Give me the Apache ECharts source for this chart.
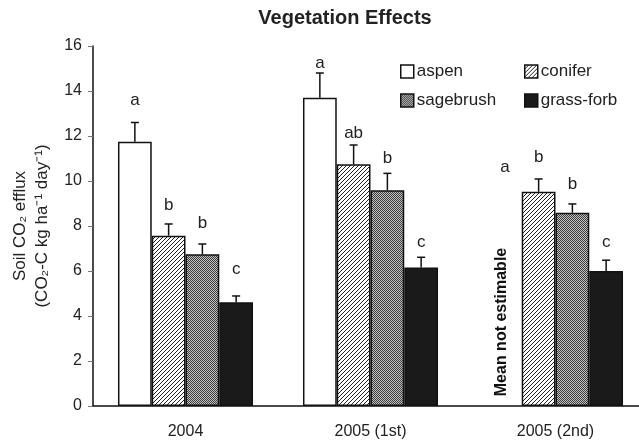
<!DOCTYPE html>
<html>
<head>
    <meta charset="utf-8" />
    <title>Vegetation Effects</title>
    <script type="text/javascript" src="https://cdn.jsdelivr.net/npm/echarts@6/dist/echarts.min.js"></script>
    <style>
        html, body { margin: 0; padding: 0; background: #fff; }
        #main { width: 639px; height: 444px; }
    </style>
</head>
<body>
    <div id="main"></div>
    <script type="text/javascript">
        var categories = ['2004', '2005 (1st)', '2005 (2nd)'];
        var vegNames = ['aspen', 'conifer', 'sagebrush', 'grass-forb'];
        // means
        var aspen = [11.75, 13.7, null];
        var conifer = [7.57, 10.74, 9.52];
        var sagebrush = [6.74, 9.59, 8.59];
        var grassForb = [4.61, 6.16, 6.0];
        // top of error bars
        var aspenErr = [12.6, 14.8, null];
        var coniferErr = [8.09, 11.6, 10.09];
        var sagebrushErr = [7.2, 10.34, 8.98];
        var grassForbErr = [4.89, 6.61, 6.48];
        // significance letters and where they sit
        var aspenLetters = ['a', 'a', 'a'];
        var coniferLetters = ['b', 'ab', 'b'];
        var sagebrushLetters = ['b', 'b', 'b'];
        var grassForbLetters = ['c', 'c', 'c'];
        var aspenLetterY = [13.6, 15.24, 10.62];
        var coniferLetterY = [8.93, 12.13, 11.07];
        var sagebrushLetterY = [8.13, 11.0, 9.87];
        var grassForbLetterY = [6.09, 7.29, 7.29];

        var means = [aspen, conifer, sagebrush, grassForb];
        var errs = [aspenErr, coniferErr, sagebrushErr, grassForbErr];
        var letters = [aspenLetters, coniferLetters, sagebrushLetters, grassForbLetters];
        var letterY = [aspenLetterY, coniferLetterY, sagebrushLetterY, grassForbLetterY];

        var catGap = 0.27;
        var FONT = '"Liberation Sans", Arial, sans-serif';

        // fill patterns
        function hatchPattern() {
            var c = document.createElement('canvas');
            c.width = 4; c.height = 4;
            var ctx = c.getContext('2d');
            ctx.fillStyle = '#fff';
            ctx.fillRect(0, 0, 4, 4);
            ctx.strokeStyle = '#222';
            ctx.lineWidth = 1;
            ctx.beginPath();
            ctx.moveTo(-1, 5); ctx.lineTo(5, -1);
            ctx.moveTo(-1, 1); ctx.lineTo(1, -1);
            ctx.moveTo(3, 5); ctx.lineTo(5, 3);
            ctx.stroke();
            return c;
        }
        function stipplePattern() {
            var c = document.createElement('canvas');
            c.width = 2; c.height = 2;
            var ctx = c.getContext('2d');
            ctx.fillStyle = '#c4c4c4';
            ctx.fillRect(0, 0, 2, 2);
            ctx.fillStyle = '#3a3a3a';
            ctx.fillRect(0, 0, 1, 1);
            ctx.fillRect(1, 1, 1, 1);
            return c;
        }
        var fills = [
            '#ffffff',
            { image: hatchPattern(), repeat: 'repeat' },
            { image: stipplePattern(), repeat: 'repeat' },
            '#1a1a1a'
        ];

        var myChart = echarts.init(document.getElementById('main'), null, { renderer: 'canvas' });

        var series = [];
        for (var i = 0; i < 4; i++) {
            series.push({
                name: vegNames[i],
                type: 'bar',
                data: means[i],
                barGap: '0%',
                barCategoryGap: (catGap * 100) + '%',
                itemStyle: { color: fills[i], borderColor: '#111', borderWidth: 1.5 },
                emphasis: { disabled: true }
            });
        }
        for (var k = 0; k < 4; k++) {
            (function (idx) {
                var data = [];
                for (var j = 0; j < categories.length; j++) {
                    data.push([j, means[idx][j], errs[idx][j], letterY[idx][j]]);
                }
                series.push({
                    type: 'custom',
                    data: data,
                    z: 5,
                    silent: true,
                    renderItem: function (params, api) {
                        var cat = api.value(0);
                        var band = api.size([1, 0])[0];
                        var bw = band * (1 - catGap) / 4;
                        var off = (idx - 1.5) * bw;
                        var children = [];
                        var mean = api.value(1);
                        var err = api.value(2);
                        if (!isNaN(mean) && !isNaN(err)) {
                            var p0 = api.coord([cat, mean]);
                            var p1 = api.coord([cat, err]);
                            var x = p0[0] + off;
                            children.push({
                                type: 'line',
                                shape: { x1: x, y1: p0[1], x2: x, y2: p1[1] },
                                style: { stroke: '#111', lineWidth: 1.5 }
                            });
                            children.push({
                                type: 'line',
                                shape: { x1: x - 4, y1: p1[1], x2: x + 4, y2: p1[1] },
                                style: { stroke: '#111', lineWidth: 1.5 }
                            });
                        }
                        var pl = api.coord([cat, api.value(3)]);
                        children.push({
                            type: 'text',
                            x: pl[0] + off,
                            y: pl[1],
                            style: {
                                text: letters[idx][params.dataIndex],
                                fill: '#222',
                                font: '17px ' + FONT,
                                align: 'center',
                                verticalAlign: 'middle'
                            }
                        });
                        return { type: 'group', children: children };
                    }
                });
            })(k);
        }

        var legendText = { fontSize: 17, color: '#222', fontFamily: FONT, padding: [0, 0, 0, -2] };
        var option = {
            backgroundColor: '#fff',
            animation: false,
            title: {
                text: 'Vegetation Effects',
                left: 340,
                textAlign: 'center',
                top: 3,
                textStyle: { fontSize: 20, fontWeight: 'bold', color: '#222', fontFamily: FONT }
            },
            legend: [{
                data: ['aspen', 'sagebrush'],
                orient: 'vertical',
                left: 395,
                top: 58,
                icon: 'rect',
                itemWidth: 13,
                itemHeight: 13,
                itemGap: 12,
                textStyle: legendText,
                itemStyle: { borderColor: '#111', borderWidth: 1.5 }
            }, {
                data: ['conifer', 'grass-forb'],
                orient: 'vertical',
                left: 519,
                top: 58,
                icon: 'rect',
                itemWidth: 13,
                itemHeight: 13,
                itemGap: 12,
                textStyle: legendText,
                itemStyle: { borderColor: '#111', borderWidth: 1.5 }
            }],
            grid: { left: 93, top: 46, width: 555, bottom: 38, outerBoundsMode: 'none', containLabel: false },
            xAxis: {
                type: 'category',
                data: categories,
                axisLine: { lineStyle: { color: '#111', width: 1.5 } },
                axisTick: { length: 5, lineStyle: { color: '#777' } },
                axisLabel: { color: '#222', fontSize: 16, margin: 18, fontFamily: FONT }
            },
            yAxis: {
                type: 'value',
                min: 0,
                max: 16,
                interval: 2,
                name: 'Soil CO\u2082 efflux\n(CO\u2082-C kg ha\u207B\u00B9 day\u207B\u00B9)',
                nameLocation: 'middle',
                nameRotate: 90,
                nameGap: 35,
                nameTextStyle: { fontSize: 17, color: '#222', lineHeight: 22, fontFamily: FONT },
                axisLine: { show: true, lineStyle: { color: '#111', width: 1.5 } },
                axisTick: { show: true, length: 5, lineStyle: { color: '#777' } },
                axisLabel: { color: '#222', fontSize: 16, margin: 11, fontFamily: FONT },
                splitLine: { show: false }
            },
            graphic: [{
                type: 'text',
                x: 502,
                y: 322,
                rotation: Math.PI / 2,
                style: {
                    text: 'Mean not estimable',
                    fill: '#111',
                    font: 'bold 16px ' + FONT,
                    align: 'center',
                    verticalAlign: 'middle'
                }
            }],
            series: series
        };
        option && myChart.setOption(option);
    </script>
</body>
</html>
